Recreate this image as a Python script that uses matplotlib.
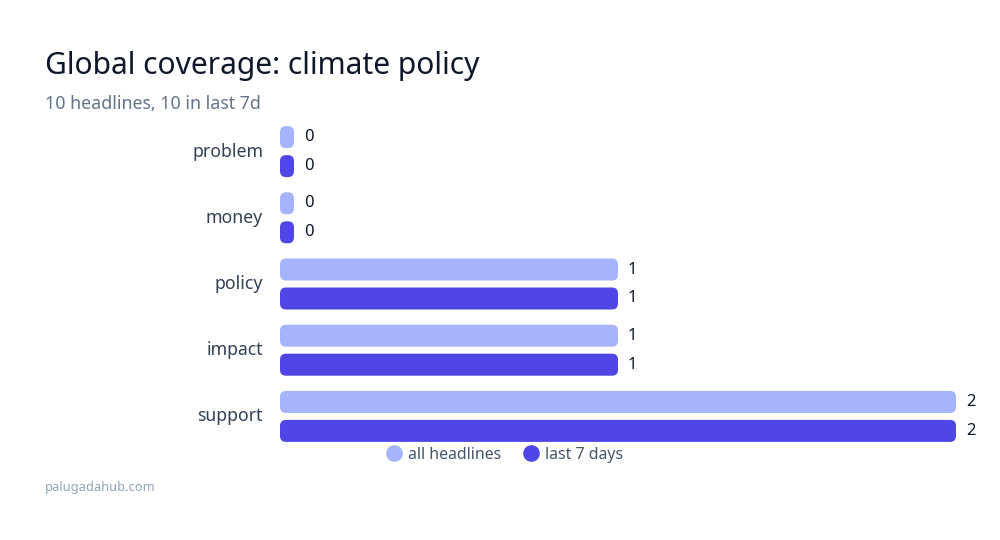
import matplotlib
matplotlib.use("Agg")
import matplotlib.pyplot as plt
from matplotlib.patches import FancyBboxPatch
from matplotlib.lines import Line2D

plt.rcParams['font.family'] = ['Noto Sans', 'DejaVu Sans']

categories = ["problem", "money", "policy", "impact", "support"]
all_headlines = [0, 0, 1, 1, 2]
last_7_days = [0, 0, 1, 1, 2]
series_names = ["all headlines", "last 7 days"]

light = "#a5b4fc"
dark = "#4f46e5"

W, H = 1000, 540
fig = plt.figure(figsize=(10, 5.4), dpi=100)
fig.patch.set_facecolor("white")

# axes placed in pixels: x 280..956, groups centred 150..415 from top
ax_left, ax_right = 280, 956
ax_top, ax_bot = 118.5, 449.5
ax = fig.add_axes([ax_left / W, 1 - ax_bot / H, (ax_right - ax_left) / W, (ax_bot - ax_top) / H])
ax.set_xlim(0, 2)
ax.set_ylim(len(categories) - 0.5, -0.5)
ax.axis("off")

xpp = 2 / (ax_right - ax_left)          # x units per pixel
ypp = len(categories) / (ax_bot - ax_top)  # y units per pixel
aspect = ypp / xpp

bar_h = 22 * ypp
offset = 14.5 * ypp
min_w = 14 * xpp
rad = 6 * xpp

for i, cat in enumerate(categories):
    for vals, col, sign in ((all_headlines, light, -1), (last_7_days, dark, 1)):
        v = vals[i]
        w = max(v, min_w)
        yc = i + sign * offset
        r = min(rad, w / 2)
        p = FancyBboxPatch((0, yc - bar_h / 2), w, bar_h,
                           boxstyle="round,pad=0,rounding_size=%f" % r,
                           mutation_aspect=aspect, fc=col, ec="none", clip_on=False)
        ax.add_patch(p)
        ax.text(w + 10 * xpp, yc, str(v), va="center", ha="left",
                fontsize=12, color="#0f172a", clip_on=False)
    ax.text(-17 * xpp, i, cat, va="center", ha="right", fontsize=12.7,
            color="#334155", clip_on=False)

fig.text(45 / W, 1 - 66 / H, "Global coverage: climate policy", fontsize=21.6,
         color="#0f172a", va="center", ha="left")
fig.text(45 / W, 1 - 104 / H, "10 headlines, 10 in last 7d", fontsize=12.8,
         color="#64748b", va="center", ha="left")
fig.text(45 / W, 1 - 488 / H, "palugadahub.com", fontsize=9.3,
         color="#94a3b8", va="center", ha="left")

handles = [Line2D([], [], marker="o", ls="none", ms=12, mfc=c, mec="none")
           for c in (light, dark)]
leg = fig.legend(handles, series_names, loc="center", bbox_to_anchor=(504 / W, 1 - 455 / H),
                 ncol=2, frameon=False, fontsize=11.4, handletextpad=0.3,
                 columnspacing=1.25, handlelength=1.2)
for t in leg.get_texts():
    t.set_color("#475569")

fig.savefig("out.png", dpi=100, facecolor="white")
